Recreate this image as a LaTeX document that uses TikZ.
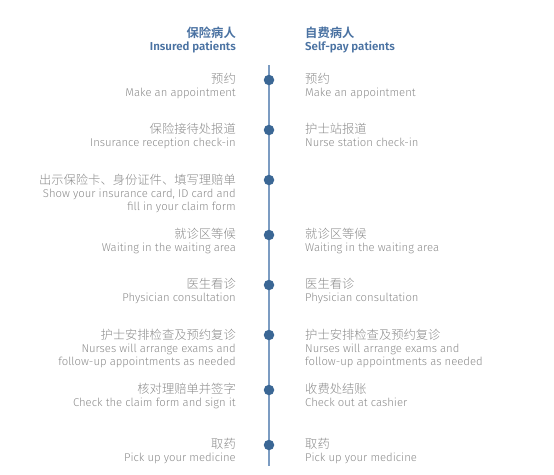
\documentclass[tikz,border=0pt]{standalone}
\usepackage{fontspec}
\setmainfont{Fira Sans Light}[BoldFont={Fira Sans SemiBold}]
\newfontfamily\cjk{Noto Sans CJK SC Light}[BoldFont={Noto Sans CJK SC Bold}]
\newcommand{\zh}[1]{{\cjk\fontsize{12.3}{12.8}\selectfont #1}}
\definecolor{headblue}{HTML}{4A72A2}
\definecolor{dotblue}{HTML}{3B6795}
\definecolor{lineblue}{HTML}{7C9CC2}
\definecolor{textgrey}{HTML}{8A8A8A}

\begin{document}
\begin{tikzpicture}[
    x=1pt, y=-1pt,
    head/.style={inner sep=0pt, text=headblue, font=\fontsize{11.5}{12.5}\selectfont\bfseries},
    lstep/.style={inner sep=0pt, anchor=north east, align=right, text=textgrey, font=\fontsize{11.3}{12.8}\selectfont},
    rstep/.style={inner sep=0pt, anchor=north west, align=left, text=textgrey, font=\fontsize{11.3}{12.8}\selectfont},
    dot/.style={circle, fill=dotblue, inner sep=0pt, minimum size=10.5pt}
]
\useasboundingbox (0,0) rectangle (554,474);

% Column headers
\node[head, anchor=north east, align=right] (insured) at (236,27) {\zh{保险病人}\\Insured patients};
\node[head, anchor=north west, align=left] (selfpay) at (305,27) {\zh{自费病人}\\Self-pay patients};

% Time line
\coordinate (top) at (269,65);
\coordinate (bottom) at (269,466);
\draw[lineblue, line width=1.2pt] (top) -- (bottom);

% Steps on the line
\node[dot] (s1) at (269,80) {};
\node[dot] (s2) at (269,130) {};
\node[dot] (s3) at (269,180) {};
\node[dot] (s4) at (269,235) {};
\node[dot] (s5) at (269,285) {};
\node[dot] (s6) at (269,335) {};
\node[dot] (s7) at (269,390) {};
\node[dot] (s8) at (269,445) {};

% Insured patients
\node[lstep] (l1) at (236,73) {\zh{预约}\\Make an appointment};
\node[lstep] (l2) at (236,123) {\zh{保险接待处报道}\\Insurance reception check-in};
\node[lstep] (l3) at (236,174) {\zh{出示保险卡、身份证件、填写理赔单}\\Show your insurance card, ID card and\\fill in your claim form};
\node[lstep] (l4) at (236,228) {\zh{就诊区等候}\\Waiting in the waiting area};
\node[lstep] (l5) at (236,278) {\zh{医生看诊}\\Physician consultation};
\node[lstep] (l6) at (236,329) {\zh{护士安排检查及预约复诊}\\Nurses will arrange exams and\\follow-up appointments as needed};
\node[lstep] (l7) at (236,383) {\zh{核对理赔单并签字}\\Check the claim form and sign it};
\node[lstep] (l8) at (236,438) {\zh{取药}\\Pick up your medicine};

% Self-pay patients
\node[rstep] (r1) at (305,73) {\zh{预约}\\Make an appointment};
\node[rstep] (r2) at (305,123) {\zh{护士站报道}\\Nurse station check-in};
\node[rstep] (r4) at (305,228) {\zh{就诊区等候}\\Waiting in the waiting area};
\node[rstep] (r5) at (305,278) {\zh{医生看诊}\\Physician consultation};
\node[rstep] (r6) at (305,329) {\zh{护士安排检查及预约复诊}\\Nurses will arrange exams and\\follow-up appointments as needed};
\node[rstep] (r7) at (305,383) {\zh{收费处结账}\\Check out at cashier};
\node[rstep] (r8) at (305,438) {\zh{取药}\\Pick up your medicine};

\end{tikzpicture}
\end{document}
